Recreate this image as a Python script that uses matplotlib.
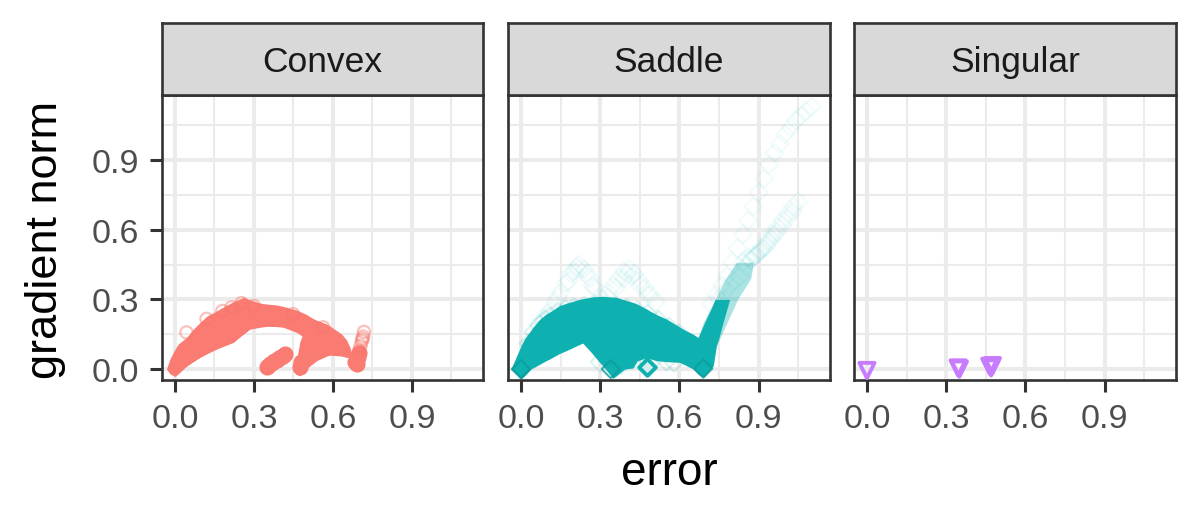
import matplotlib
matplotlib.use("Agg")
import matplotlib.pyplot as plt

plt.rcParams['font.family'] = ['Liberation Sans', 'DejaVu Sans']

panels = ["Convex", "Saddle", "Singular"]
ticks = [0.0, 0.3, 0.6, 0.9]
minor_ticks = [0.15, 0.45, 0.75, 1.05]
tick_labels = ["0.0", "0.3", "0.6", "0.9"]

# convex: outline of the dense cloud
convex_cloud_x = [-0.032, -0.019, 0.0, 0.013, 0.032, 0.044, 0.07, 0.095, 0.12, 0.158, 0.171, 0.222, 0.253, 0.26, 0.285,
                  0.323, 0.348, 0.386, 0.411, 0.462, 0.5, 0.53, 0.56]
convex_cloud_low = [0.0, -0.02, -0.032, -0.02, 0.0, 0.012, 0.032, 0.05, 0.065, 0.086, 0.092, 0.115, 0.144, 0.15, 0.172,
                    0.18, 0.184, 0.183, 0.18, 0.158, 0.129, 0.10, 0.09]
convex_cloud_up = [0.0, 0.043, 0.085, 0.108, 0.125, 0.136, 0.172, 0.2, 0.227, 0.25, 0.259, 0.29, 0.305, 0.309, 0.298,
                   0.284, 0.28, 0.276, 0.27, 0.254, 0.235, 0.213, 0.20]
convex_tail_x = [0.449, 0.462, 0.475, 0.49, 0.506, 0.513, 0.538, 0.576, 0.589, 0.633, 0.652, 0.665, 0.677]
convex_tail_low = [0.0, -0.024, -0.029, -0.012, 0.007, 0.014, 0.036, 0.056, 0.06, 0.056, 0.05, 0.05, 0.05]
convex_tail_up = [0.0, 0.04, 0.12, 0.16, 0.2, 0.223, 0.21, 0.194, 0.185, 0.151, 0.125, 0.093, 0.05]

# convex: single points
convex_x = [0.348, 0.355, 0.362, 0.37, 0.378, 0.386, 0.394, 0.402, 0.41, 0.418,
            0.475, 0.48, 0.685, 0.69, 0.69, 0.695, 0.70]
convex_y = [0.007, 0.013, 0.02, 0.027, 0.033, 0.04, 0.046, 0.052, 0.058, 0.065,
            0.007, 0.03, 0.03, 0.02, 0.04, 0.05, 0.07]
convex_ring_x = [0.044, 0.12, 0.253, 0.215, 0.449, 0.563, 0.70, 0.705, 0.71, 0.715, 0.718, 0.712, 0.30, 0.18]
convex_ring_y = [0.158, 0.216, 0.284, 0.266, 0.237, 0.18, 0.08, 0.10, 0.12, 0.14, 0.16, 0.13, 0.272, 0.25]

# saddle: outline of the dense arch
saddle_arch_x = [-0.038, -0.019, 0.0, 0.013, 0.038, 0.044, 0.07, 0.095, 0.108, 0.146, 0.171, 0.22, 0.234, 0.266, 0.297, 0.31,
                 0.348, 0.36, 0.392, 0.424, 0.44, 0.477, 0.487, 0.513, 0.55, 0.6, 0.614, 0.652, 0.671, 0.692, 0.728, 0.74]
saddle_arch_low = [0.0, -0.02, -0.043, -0.03, 0.0, 0.004, 0.02, 0.036, 0.043, 0.067, 0.079, 0.105, 0.112, 0.072, 0.03, 0.014,
                   -0.04, -0.03, 0.0, 0.005, 0.035, 0.05, 0.045, 0.036, 0.032, 0.029, 0.022, 0.0, -0.022, -0.036, 0.014, 0.1]
saddle_arch_up = [0.0, 0.05, 0.1, 0.129, 0.168, 0.178, 0.213, 0.237, 0.245, 0.273, 0.283, 0.3, 0.303, 0.31, 0.313, 0.313,
                  0.31, 0.309, 0.298, 0.287, 0.28, 0.258, 0.251, 0.235, 0.216, 0.182, 0.172, 0.15, 0.136, 0.15, 0.13, 0.1]

# saddle: fan going up right from the last minimum
fan_y = [0.10, 0.137, 0.20, 0.26, 0.30]
fan_left = [0.66, 0.671, 0.695, 0.72, 0.735]
fan_right = [0.74, 0.75, 0.765, 0.78, 0.79]
fan_soft_y = [0.10, 0.20, 0.30, 0.39, 0.46]
fan_soft_left = [0.66, 0.69, 0.735, 0.775, 0.815]
fan_soft_right = [0.74, 0.78, 0.82, 0.87, 0.88]

# saddle: points on the edge of the arch
saddle_edge_x = [0.03, 0.05, 0.07, 0.09, 0.11, 0.14, 0.17, 0.20, 0.24, 0.28, 0.32, 0.36, 0.40, 0.44, 0.48, 0.52, 0.56, 0.60,
                 0.26, 0.30, 0.38, 0.42, 0.50, 0.55, 0.58]
saddle_edge_y = [0.11, 0.16, 0.19, 0.21, 0.225, 0.245, 0.255, 0.265, 0.27, 0.275, 0.275, 0.27, 0.262, 0.25, 0.235, 0.21, 0.18, 0.15,
                 0.13, 0.03, 0.02, 0.04, 0.04, 0.035, 0.03]

# saddle: thin trails above the arch
saddle_trail_x = [0.09, 0.11, 0.13, 0.15, 0.17, 0.19, 0.21, 0.22, 0.24, 0.26, 0.28, 0.30,
                  0.10, 0.14, 0.18, 0.20, 0.22, 0.25, 0.27,
                  0.31, 0.33, 0.35, 0.37, 0.39, 0.41, 0.43, 0.45, 0.47, 0.49, 0.51,
                  0.33, 0.36, 0.39, 0.40, 0.42, 0.45, 0.48,
                  0.72, 0.74, 0.76, 0.78, 0.80, 0.82, 0.84, 0.86, 0.88, 0.90, 0.92, 0.94, 0.96, 0.98, 1.00, 1.02, 1.04, 1.06, 1.08, 1.10,
                  0.87, 0.89, 0.91, 0.93, 0.95, 0.97, 0.99, 1.01, 1.03,
                  0.75, 0.77, 0.79, 0.81, 0.83, 0.85, 0.87, 0.89, 0.91, 0.93, 0.95, 0.97, 0.99, 1.01, 1.03, 1.05,
                  0.84, 0.86, 0.88, 0.90, 0.92, 0.94, 0.96]
saddle_trail_y = [0.22, 0.25, 0.29, 0.33, 0.37, 0.41, 0.44, 0.45, 0.43, 0.39, 0.35, 0.31,
                  0.24, 0.31, 0.38, 0.42, 0.43, 0.41, 0.36,
                  0.30, 0.33, 0.36, 0.39, 0.42, 0.43, 0.41, 0.38, 0.35, 0.32, 0.29,
                  0.31, 0.35, 0.39, 0.41, 0.40, 0.36, 0.32,
                  0.28, 0.32, 0.36, 0.40, 0.46, 0.52, 0.58, 0.64, 0.70, 0.76, 0.82, 0.88, 0.93, 0.97, 1.01, 1.04, 1.07, 1.09, 1.11, 1.13,
                  0.47, 0.49, 0.52, 0.55, 0.58, 0.61, 0.64, 0.67, 0.70,
                  0.30, 0.33, 0.36, 0.38, 0.40, 0.44, 0.47, 0.49, 0.51, 0.53, 0.56, 0.59, 0.62, 0.65, 0.68, 0.72,
                  0.46, 0.48, 0.49, 0.50, 0.52, 0.55, 0.58]

saddle_min_x = [0.0, 0.34, 0.69]
saddle_min_y = [0.0, 0.0, 0.002]
saddle_iso_x = [0.477]
saddle_iso_y = [0.007]

singular_x = [0.0, 0.345, 0.35, 0.465, 0.47, 0.475]
singular_y = [-0.006, 0.005, 0.0, 0.012, 0.005, 0.015]

# pixel boxes of the three panels (left, right)
boxes = [(162, 483), (508, 830), (854, 1176)]
W, H = 1200, 510
top, bottom, strip_top = 96, 381, 24
xlim = (-0.049, 1.17)
ylim = (-0.047, 1.18)

fig = plt.figure(figsize=(W / 100, H / 100), dpi=100)

axs = []
for (l, r), name in zip(boxes, panels):
    ax = fig.add_axes([l / W, 1 - bottom / H, (r - l) / W, (bottom - top) / H])
    ax.set_xlim(xlim)
    ax.set_ylim(ylim)
    ax.set_xticks(ticks)
    ax.set_xticklabels(tick_labels)
    ax.set_yticks(ticks)
    ax.set_yticklabels(tick_labels)
    ax.set_xticks(minor_ticks, minor=True)
    ax.set_yticks(minor_ticks, minor=True)
    ax.grid(True, which='major', color='#ebebeb', lw=2.9)
    ax.grid(True, which='minor', color='#ebebeb', lw=1.5)
    ax.set_axisbelow(True)
    ax.tick_params(which='minor', length=0)
    ax.tick_params(which='major', length=8.5, width=2.2, color='#333333',
                   labelcolor='#4d4d4d', labelsize=24.5, pad=8)
    if l != boxes[0][0]:
        ax.tick_params(axis='y', left=False, labelleft=False)
    for s in ax.spines.values():
        s.set_color('#333333')
        s.set_linewidth(1.9)
    strip = fig.add_axes([l / W, 1 - top / H, (r - l) / W, (top - strip_top) / H])
    strip.set_xticks([])
    strip.set_yticks([])
    strip.set_facecolor('#d9d9d9')
    for s in strip.spines.values():
        s.set_color('#333333')
        s.set_linewidth(1.9)
    strip.text(0.5, 0.47, name, ha='center', va='center', fontsize=25.5, color='#1a1a1a', transform=strip.transAxes)
    axs.append(ax)

red = '#F8766D'
red_dense = '#F97B72'
teal = '#00BFC4'
teal_dark = '#0FB1B0'
purple = '#C77CFF'

ax = axs[0]
ax.fill_between(convex_cloud_x, convex_cloud_low, convex_cloud_up, color=red_dense, lw=0, zorder=3, clip_on=False)
ax.fill_between(convex_tail_x, convex_tail_low, convex_tail_up, color=red_dense, lw=0, zorder=3, clip_on=False)
ax.scatter(convex_x, convex_y, s=135, marker='o', color=red_dense, linewidths=0, zorder=3, clip_on=False)
ax.scatter(convex_ring_x, convex_ring_y, s=78, marker='o', facecolors='none', edgecolors=red, alpha=0.45, linewidths=1.6, zorder=4)

ax = axs[1]
ax.scatter(saddle_trail_x, saddle_trail_y, s=85, marker='D', facecolors='none', edgecolors=teal, alpha=0.05, linewidths=1.5, zorder=3)
ax.fill_betweenx(fan_soft_y, fan_soft_left, fan_soft_right, color=teal_dark, alpha=0.35, lw=0, zorder=3)
ax.fill_betweenx(fan_y, fan_left, fan_right, color=teal_dark, lw=0, zorder=4)
ax.scatter(saddle_edge_x, saddle_edge_y, s=95, marker='D', facecolors='none', edgecolors=teal_dark, alpha=0.15, linewidths=1.5, zorder=3)
ax.fill_between(saddle_arch_x, saddle_arch_low, saddle_arch_up, color=teal_dark, lw=0, zorder=4, clip_on=False)
ax.scatter(saddle_min_x, saddle_min_y, s=85, marker='D', facecolors='none', edgecolors='#0B9C9C', alpha=0.8, linewidths=1.5, zorder=5)
ax.scatter(saddle_iso_x, saddle_iso_y, s=72, marker='D', facecolors='#d5efef', edgecolors=teal_dark, linewidths=2.8, zorder=5)

ax = axs[2]
ax.scatter(singular_x, singular_y, s=120, marker='v', facecolors='none', edgecolors=purple, linewidths=2.8, zorder=3, clip_on=False)

fig.text(669 / W, 1 - 473 / H, "error", ha='center', va='center', fontsize=33)
fig.text(46 / W, 1 - 240 / H, "gradient norm", ha='center', va='center', fontsize=32.5, rotation=90)

fig.savefig("out.png", dpi=100)
